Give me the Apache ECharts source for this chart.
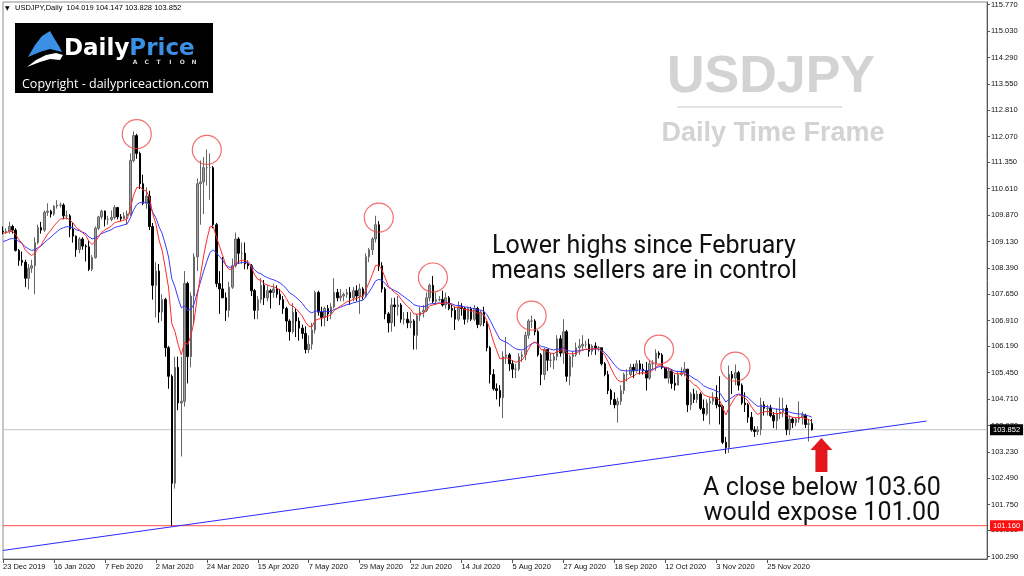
<!DOCTYPE html>
<html><head><meta charset="utf-8">
<script src="https://cdn.jsdelivr.net/npm/echarts@6/dist/echarts.min.js"></script>
<style>html,body{margin:0;padding:0;background:#fff}#c{width:1024px;height:576px}</style>
</head><body><div id="c"></div>
<script>
// ---- data (USDJPY daily, 23 Dec 2019 .. 15 Dec 2020) ----
const opens=[
109.42,109.40,109.42,109.55,109.45,108.88,108.60,108.55,108.10,108.38,
108.45,109.10,109.52,109.45,109.95,109.98,109.90,110.12,110.15,110.15,
109.85,109.85,109.48,109.28,108.90,109.20,109.00,108.98,108.35,108.68,
109.50,109.82,109.98,109.75,109.75,109.80,110.08,109.82,109.77,109.85,
109.90,111.40,112.10,111.60,110.75,110.20,110.40,109.55,107.90,108.30,
107.15,107.50,106.15,105.35,102.35,105.60,104.60,104.65,107.95,105.90,
107.60,108.70,110.75,110.80,111.20,111.20,111.20,109.60,107.95,107.80,
107.55,107.20,107.85,108.45,109.20,108.80,108.80,108.50,108.45,107.75,
107.20,107.50,107.90,107.55,107.75,107.70,107.80,107.65,107.50,107.25,
106.90,106.60,107.15,106.90,106.70,106.55,106.10,106.25,106.65,107.70,
107.15,107.00,107.25,107.10,107.30,107.70,107.55,107.60,107.65,107.70,
107.55,107.75,107.60,107.80,107.60,108.70,108.90,109.20,109.60,108.45,
107.80,107.10,106.85,107.35,107.30,107.35,106.95,106.95,106.85,106.90,
106.50,107.05,107.15,107.20,107.55,107.90,107.45,107.50,107.50,107.35,
107.55,107.25,107.20,106.95,107.30,107.25,106.95,107.25,106.95,107.25,
106.80,107.15,106.85,106.15,105.40,105.00,104.95,104.75,105.90,105.95,
105.70,105.55,105.55,105.90,105.95,106.50,106.90,106.90,106.60,105.95,
105.40,106.10,105.80,105.80,105.90,106.40,106.00,106.60,105.35,105.90,
105.95,106.15,106.20,106.25,106.25,106.05,106.20,106.15,106.15,105.70,
105.40,104.95,104.70,104.55,104.65,104.95,105.40,105.40,105.60,105.50,
105.70,105.55,105.50,105.30,105.70,105.70,106.00,105.95,105.60,105.30,
105.50,105.15,105.10,105.40,105.45,105.55,104.55,104.85,104.70,104.85,
104.45,104.30,104.60,104.65,104.75,104.55,104.50,103.50,103.35,105.40,
105.30,105.45,105.10,104.60,104.55,104.20,103.85,103.80,103.85,104.55,
104.45,104.45,104.25,104.10,104.30,104.35,104.45,103.85,104.15,104.05,
104.15,104.20,104.25,104.00,104.019];
const highs=[
109.55,109.50,109.68,109.60,109.50,108.92,108.85,108.62,108.50,108.62,
109.25,109.60,109.68,110.00,110.20,110.02,110.15,110.29,110.22,110.20,
110.00,109.90,109.65,109.30,109.25,109.25,109.05,109.15,108.75,109.55,
109.85,110.02,110.00,109.85,110.00,110.15,110.10,109.90,109.95,110.00,
111.60,112.22,112.15,111.65,111.00,110.65,110.55,109.65,108.55,108.50,
107.65,107.55,106.20,105.40,105.90,105.90,105.90,108.30,108.00,107.70,
108.80,110.90,111.40,111.50,111.71,111.60,111.25,109.65,108.30,108.70,
107.70,108.00,108.65,109.38,109.25,109.10,109.10,108.60,108.50,107.80,
107.60,108.10,108.05,107.90,107.80,107.95,107.90,107.80,107.60,107.30,
106.95,107.40,107.25,107.00,106.80,106.75,106.50,106.85,107.75,107.75,
107.30,107.30,107.35,107.40,108.10,107.80,107.80,107.70,107.80,107.85,
107.85,107.90,107.95,107.85,108.80,108.95,109.25,109.85,109.70,108.55,
107.85,107.15,107.55,107.55,107.60,107.40,107.15,107.15,107.15,106.95,
107.10,107.30,107.35,107.70,107.95,108.16,107.70,107.60,107.75,107.70,
107.60,107.35,107.30,107.45,107.40,107.30,107.30,107.30,107.35,107.30,
107.20,107.30,106.90,106.20,105.55,105.15,105.10,106.05,106.45,106.00,
105.80,105.70,106.00,106.05,106.60,106.95,107.05,106.95,106.65,106.00,
106.15,106.10,106.00,106.00,106.50,106.50,106.95,106.65,105.95,106.05,
106.30,106.40,106.50,106.35,106.40,106.25,106.30,106.20,106.15,105.75,
105.50,105.00,104.90,104.75,105.10,105.45,105.55,105.70,105.70,105.80,
105.80,105.70,105.75,105.80,105.80,106.11,106.05,106.00,105.60,105.60,
105.55,105.40,105.50,105.60,105.75,105.55,104.90,105.00,104.95,104.90,
104.70,104.70,104.75,104.90,105.10,105.35,104.55,103.65,105.65,105.50,
105.68,105.50,105.15,104.90,104.60,104.35,103.95,103.95,104.75,104.65,
104.55,104.55,104.35,104.45,104.75,104.75,104.55,104.25,104.20,104.20,
104.65,104.35,104.30,104.15,104.147];
const lows=[
109.33,109.34,109.35,109.35,108.85,108.45,108.45,107.85,107.78,108.25,
107.65,109.05,109.35,109.40,109.85,109.80,109.85,110.05,110.08,109.75,
109.75,109.25,109.10,108.70,108.80,108.90,108.57,108.30,108.30,108.65,
109.45,109.75,109.55,109.60,109.70,109.75,109.75,109.70,109.75,109.60,
109.85,111.35,111.45,110.60,110.15,110.05,109.45,107.50,107.00,106.85,
106.90,105.90,105.00,101.16,102.20,104.40,103.10,104.50,105.15,105.60,
106.80,108.30,109.60,109.90,110.70,110.30,109.50,107.85,107.10,107.60,
106.90,107.00,107.80,108.40,108.50,108.50,108.35,108.35,107.60,106.95,
106.95,107.40,107.35,107.45,107.25,107.55,107.55,107.35,107.10,106.60,
106.35,106.55,106.45,106.35,106.40,105.99,106.00,106.10,106.55,107.05,
106.75,106.75,106.90,106.95,107.25,107.45,107.45,107.45,107.55,107.35,
107.45,107.45,107.10,107.50,107.55,108.55,108.75,109.10,108.30,107.70,
106.95,106.58,106.60,106.75,107.05,106.85,106.80,106.70,106.70,106.10,
106.10,106.90,107.00,107.15,107.45,107.40,107.35,107.45,107.30,107.25,
107.20,107.00,106.65,106.90,107.05,106.80,106.85,106.90,106.90,106.70,
106.75,106.75,106.05,105.15,104.95,104.70,104.50,104.18,105.70,105.50,
105.30,105.30,105.50,105.75,105.80,106.40,106.70,106.50,105.90,105.10,
105.25,105.50,105.60,105.55,105.80,105.90,105.70,105.20,105.10,105.60,
105.90,105.95,106.10,106.15,105.90,105.95,105.95,106.05,105.65,105.35,
104.85,104.55,104.45,104.05,104.55,104.85,105.20,105.35,105.30,105.45,
105.40,105.40,104.95,105.25,105.55,105.50,105.85,105.55,105.30,105.15,
105.00,104.95,105.10,105.35,105.35,104.35,104.40,104.60,104.60,104.40,
104.10,104.25,104.00,104.55,104.45,104.00,103.45,103.18,103.20,104.85,
105.10,104.95,104.55,104.35,104.05,103.80,103.65,103.70,103.70,104.25,
104.25,104.20,103.90,103.85,104.15,104.20,103.70,103.70,103.90,103.95,
104.05,104.00,103.90,103.52,103.828];
const closes=[
109.40,109.42,109.55,109.45,108.88,108.60,108.55,108.10,108.38,108.45,
109.10,109.52,109.45,109.95,109.98,109.90,110.12,110.15,110.15,109.85,
109.85,109.48,109.28,108.90,109.20,109.00,108.98,108.35,108.68,109.50,
109.82,109.98,109.75,109.75,109.80,110.08,109.82,109.77,109.85,109.90,
111.40,112.10,111.60,110.75,110.20,110.40,109.55,107.90,108.30,107.15,
107.50,106.15,105.35,102.35,105.60,104.60,104.65,107.95,105.90,107.60,
108.70,110.75,110.80,111.20,111.20,111.20,109.60,107.95,107.80,107.55,
107.20,107.85,108.45,109.20,108.80,108.80,108.50,108.45,107.75,107.20,
107.50,107.90,107.55,107.75,107.70,107.80,107.65,107.50,107.25,106.90,
106.60,107.15,106.90,106.70,106.55,106.10,106.25,106.65,107.70,107.15,
107.00,107.25,107.10,107.30,107.70,107.55,107.60,107.65,107.70,107.55,
107.75,107.60,107.80,107.60,108.70,108.90,109.20,109.60,108.45,107.80,
107.10,106.85,107.35,107.30,107.35,106.95,106.95,106.85,106.90,106.50,
107.05,107.15,107.20,107.55,107.90,107.45,107.50,107.50,107.35,107.55,
107.25,107.20,106.95,107.30,107.25,106.95,107.25,106.95,107.25,106.80,
107.15,106.85,106.15,105.40,105.00,104.95,104.75,105.90,105.95,105.70,
105.55,105.55,105.90,105.95,106.50,106.90,106.90,106.60,105.95,105.40,
106.10,105.80,105.80,105.90,106.40,106.00,106.60,105.35,105.90,105.95,
106.15,106.20,106.25,106.25,106.05,106.20,106.15,106.15,105.70,105.40,
104.95,104.70,104.55,104.65,104.95,105.40,105.40,105.60,105.50,105.70,
105.55,105.50,105.30,105.70,105.70,106.00,105.95,105.60,105.30,105.50,
105.15,105.10,105.40,105.45,105.55,104.55,104.85,104.70,104.85,104.45,
104.30,104.60,104.65,104.75,104.55,104.50,103.50,103.35,105.40,105.30,
105.45,105.10,104.60,104.55,104.20,103.85,103.80,103.85,104.55,104.45,
104.45,104.25,104.10,104.30,104.35,104.45,103.85,104.15,104.05,104.15,
104.20,104.25,104.00,104.02,103.852];

const tickLabels=['23 Dec 2019','16 Jan 2020','7 Feb 2020','2 Mar 2020','24 Mar 2020','15 Apr 2020','7 May 2020','29 May 2020','22 Jun 2020','14 Jul 2020','5 Aug 2020','27 Aug 2020','18 Sep 2020','12 Oct 2020','3 Nov 2020','25 Nov 2020'];
const priceTicks=[115.770,115.030,114.290,113.550,112.810,112.070,111.350,110.610,109.870,109.130,108.390,107.650,106.910,106.190,105.450,104.710,103.970,103.230,102.490,101.750,101.030,100.290];
const bidPrice=103.852;
const supportPrice=101.160;
const trendLine=[[0,100.466],[290,104.095]];
const circledHighs=[[41.6,112.14],[64.4,111.70],[117.8,109.80],[135.3,108.12],[166.3,107.05],[205.6,106.10],[229.8,105.62]];
const emaFastStart=109.36, emaSlowStart=109.10;   // MA levels at left edge of chart
const arrowTip=[257.1,103.62];
const header='USDJPY,Daily  104.019 104.147 103.828 103.852';

// ---- build ----
const SLOTS=310, LABEL_EVERY=16;
const cats=Array.from({length:SLOTS},(_,i)=>String(i));
const candles=opens.map((o,i)=>[o,closes[i],lows[i],highs[i]]);
function ema(period,start){const k=2/(period+1);let e=start;return closes.map(c=>(e=e+k*(c-e)));}
const emaFast=ema(10,emaFastStart), emaSlow=ema(20,emaSlowStart);
const showTick=i=>i%LABEL_EVERY===0 && i/LABEL_EVERY<tickLabels.length;
function hLine(value,lineColor,boxColor,z){
  return {type:'line',data:[[0,value],[SLOTS-1,value]],symbol:'none',silent:true,z:z,
    lineStyle:{color:lineColor,width:1},
    endLabel:{show:true,distance:3,formatter:()=>value.toFixed(3),color:'#fff',backgroundColor:boxColor,
      padding:[2,3,1,3],fontSize:7.5,fontFamily:'Liberation Sans'}};
}

const chart=echarts.init(document.getElementById('c'),null,{renderer:'canvas'});
chart.setOption({
  animation:false,
  backgroundColor:'#fff',
  grid:{left:2,right:37,top:2,bottom:17,show:true,borderColor:'#8c8c8c',borderWidth:1,backgroundColor:'#fff'},
  xAxis:{type:'category',data:cats,boundaryGap:false,
    axisLine:{lineStyle:{color:'#555',width:1}},
    axisTick:{interval:(i)=>showTick(i),length:4,lineStyle:{color:'#555'}},
    axisLabel:{interval:(i)=>showTick(i),formatter:(v)=>tickLabels[Number(v)/LABEL_EVERY]||'',
      align:'left',margin:4,fontSize:7.5,color:'#111',fontFamily:'Liberation Sans'},
    splitLine:{show:false}},
  yAxis:{type:'value',position:'right',min:100.226,max:115.846,scale:true,
    axisLine:{show:true,lineStyle:{color:'#555'}},
    axisTick:{show:true,customValues:priceTicks,length:3,lineStyle:{color:'#555'}},
    axisLabel:{customValues:priceTicks,formatter:(v)=>v.toFixed(3),fontSize:7.5,color:'#111',margin:4,fontFamily:'Liberation Sans'},
    splitLine:{show:false}},
  series:[
    hLine(bidPrice,'#c4c4c4','#000',1),
    hLine(supportPrice,'#ff4a4a','#ff1010',1),
    {type:'candlestick',data:candles,barWidth:2,z:2,
     itemStyle:{color:'#9c9c9c',color0:'#000',borderColor:'#666',borderColor0:'#000',borderWidth:1}},
    {type:'line',data:emaSlow,symbol:'none',lineStyle:{color:'#3a3aff',width:1},z:3},
    {type:'line',data:emaFast,symbol:'none',lineStyle:{color:'#ff2a2a',width:1},z:4},
    {type:'line',data:trendLine,symbol:'none',lineStyle:{color:'#2a2aff',width:1},z:5},
    {type:'scatter',data:circledHighs,symbol:'circle',symbolSize:29,
     itemStyle:{color:'rgba(0,0,0,0)',borderColor:'#ee4a4a',borderWidth:1.2},z:6}
  ]
});

const tip=chart.convertToPixel({xAxisIndex:0,yAxisIndex:0},arrowTip);
const g=[];
// header
g.push({type:'text',x:5,y:8,style:{text:'▼',font:'6px "DejaVu Sans"',fill:'#000',verticalAlign:'middle'}});
g.push({type:'text',x:15,y:8,style:{text:header,font:'7.5px "Liberation Sans"',fill:'#000',verticalAlign:'middle'}});
// logo
g.push({type:'rect',shape:{x:15,y:23,width:198,height:70},style:{fill:'#000'}});
g.push({type:'polygon',shape:{points:[[28,57],[35,45],[42,36],[50,31],[54,38],[59,46],[62,52],[50,49],[40,52]]},style:{fill:'#3b8fe4'}});
g.push({type:'polygon',shape:{points:[[27,67],[36,60],[46,55],[56,53],[63,55],[60,60],[50,59],[40,62]]},style:{fill:'#fff'}});
g.push({type:'text',x:64,y:49,style:{text:'{w|Daily}{b|Price}',verticalAlign:'middle',
  rich:{w:{font:'bold 23px "DejaVu Sans"',fill:'#fff'},b:{font:'bold 23px "DejaVu Sans"',fill:'#3b8fe4'}}}});
['A','C','T','I','O','N'].forEach((ch,k)=>g.push({type:'text',x:135+k*11.8,y:62.5,style:{text:ch,font:'bold 6px "DejaVu Sans"',fill:'#d8d8d8',align:'center',verticalAlign:'middle'}}));
g.push({type:'text',x:22,y:84,style:{text:'Copyright - dailypriceaction.com',font:'12.5px "Open Sans"',fill:'#fff',verticalAlign:'middle'}});
// watermark
g.push({type:'text',x:771,y:78,style:{text:'USDJPY',font:'bold 52px "Liberation Sans"',fill:'#d3d3d3',align:'center',verticalAlign:'middle'}});
g.push({type:'line',shape:{x1:677,y1:107,x2:842,y2:107},style:{stroke:'#dadada',lineWidth:1.5}});
g.push({type:'text',x:773,y:134,style:{text:'Daily Time Frame',font:'bold 27px "Liberation Sans"',fill:'#d3d3d3',align:'center',verticalAlign:'middle'}});
// annotations
g.push({type:'text',x:644,y:247,style:{text:'Lower highs since February',font:'25px Roboto',fill:'#111',align:'center',verticalAlign:'middle'}});
g.push({type:'text',x:644,y:272,style:{text:'means sellers are in control',font:'25px Roboto',fill:'#111',align:'center',verticalAlign:'middle'}});
g.push({type:'text',x:822,y:489,style:{text:'A close below 103.60',font:'25px Roboto',fill:'#111',align:'center',verticalAlign:'middle'}});
g.push({type:'text',x:822,y:514,style:{text:'would expose 101.00',font:'25px Roboto',fill:'#111',align:'center',verticalAlign:'middle'}});
// arrow
const [tx,ty]=tip;
g.push({type:'polygon',shape:{points:[[tx,ty],[tx+11,ty+12],[tx+6,ty+12],[tx+6,ty+34],[tx-6,ty+34],[tx-6,ty+12],[tx-11,ty+12]]},style:{fill:'#e3161e'}});
chart.setOption({graphic:g});
</script></body></html>
